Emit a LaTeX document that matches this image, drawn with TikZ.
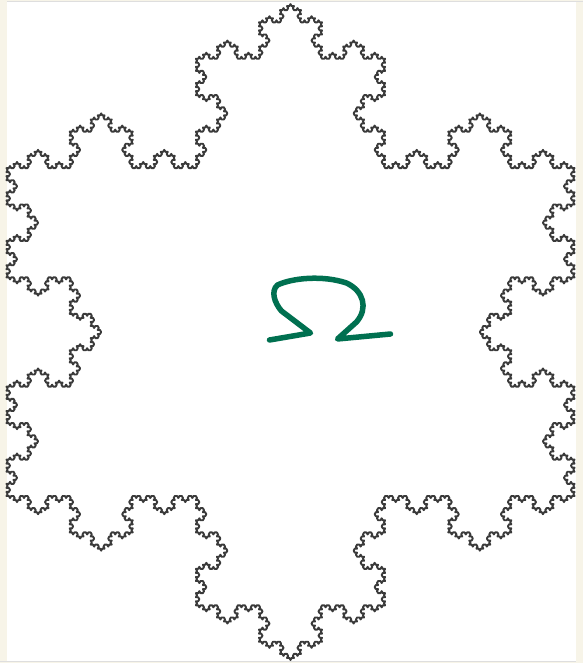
\documentclass[tikz,border=0pt]{standalone}
\usetikzlibrary{lindenmayersystems}
\definecolor{cream}{HTML}{F7F4E8}
\definecolor{omegagreen}{HTML}{007050}
\definecolor{flakegray}{HTML}{3A3A3A}
\definecolor{rulegray}{HTML}{DEDEDE}
\pgfdeclarelindenmayersystem{Koch}{\rule{F -> F-F++F-F}}
\tikzset{
  flake/.style={draw=flakegray, line width=1.9pt, line join=round,
    l-system={Koch, axiom=F++F++F, order=5, step=2.33745pt, angle=60}},
  omegastroke/.style={draw=omegagreen, line width=5.5pt, line cap=round, line join=round}
}
\begin{document}
\begin{tikzpicture}[x=1pt,y=1pt]
  \fill[cream] (0,0) rectangle (582,663);
  \fill[white] (7,2) rectangle (575,661);
  \draw[rulegray, line width=1pt] (7,661.5) -- (582,661.5);
  \draw[rulegray, line width=1pt] (0,1.5) -- (575,1.5);
  \begin{scope}[shift={(6,167)}]
    \draw[flake] lindenmayer system -- cycle;
  \end{scope}
  \draw[omegastroke] (269,323) -- (310,330) -- (281,352)
    .. controls (274,360) and (270,372) .. (277,378)
    .. controls (292,385) and (322,388) .. (346,380)
    .. controls (363,372) and (368,355) .. (356,341)
    -- (337,324) -- (390,329);
\end{tikzpicture}
\end{document}
